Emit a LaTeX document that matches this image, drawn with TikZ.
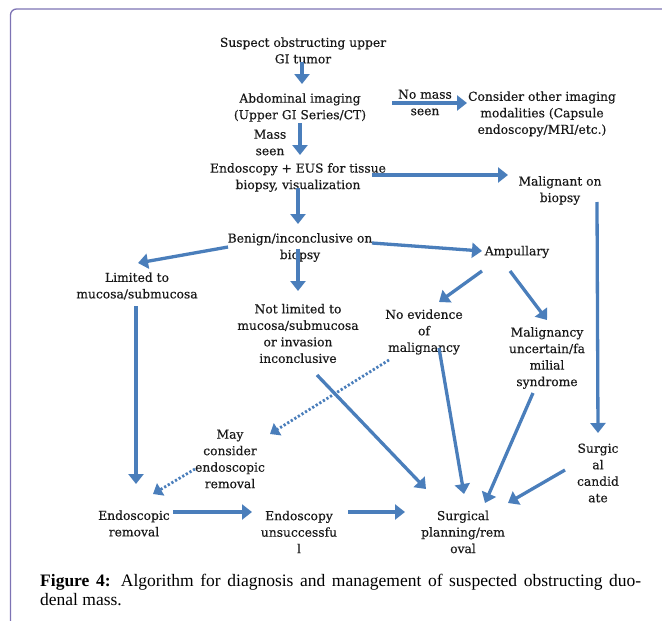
\documentclass[tikz,border=0pt]{standalone}
\usepackage{fontspec}
\setmainfont{Liberation Serif}
\newfontfamily\dgfont[FakeBold=0.4]{DejaVu Serif}
\usetikzlibrary{arrows.meta}
\definecolor{arrblue}{RGB}{74,126,187}
\definecolor{framecol}{RGB}{125,115,180}
\tikzset{
  txt/.style={align=center, inner sep=0pt, font=\dgfont\fontsize{12.3}{16.5}\selectfont, text=black!90},
  arr/.style={draw=arrblue, line width=3.3pt, -{Triangle[length=10pt,width=15pt]}, arrblue},
  dotarr/.style={draw=arrblue, line width=2.8pt, dash pattern=on 2.2pt off 2pt, -{Triangle[length=9pt,width=14pt]}, arrblue},
}
\begin{document}
\begin{tikzpicture}[x=1pt,y=-1pt]
\useasboundingbox (0,0) rectangle (662,621);
% frame
\draw[framecol, line width=1.3pt, rounded corners=6pt] (10.5,625) -- (10.5,9) -- (666,9);

% nodes
\node[txt] (s1) at (303,50.5) {Suspect obstructing upper\\GI tumor};
\node[txt] (ab) at (300,107.5) {Abdominal imaging\\(Upper GI Series/CT)};
\node[txt] (nm) at (425,102.5) {No mass\\seen};
\node[txt] (co) at (542,114) {Consider other imaging\\modalities (Capsule\\endoscopy/MRI/etc.)};
\node[txt] (ms) at (270,142.5) {Mass\\seen};
\node[txt] (en) at (298,177.5) {Endoscopy + EUS for tissue\\biopsy, visualization};
\node[txt] (mb) at (560,190.5) {Malignant on\\biopsy};
\node[txt] (bn) at (300,247.5) {Benign/inconclusive on\\biopsy};
\node[txt] (li) at (137,286) {Limited to\\mucosa/submucosa};
\node[txt] (am) at (517,252) {Ampullary};
\node[txt] (nl) at (298,333.5) {Not limited to\\mucosa/submucosa\\or invasion\\inconclusive};
\node[txt] (ne) at (424,332) {No evidence\\of\\malignancy};
\node[txt] (mu) at (547,358) {Malignancy\\uncertain/fa\\milial\\syndrome};
\node[txt] (ma) at (230,459) {May\\consider\\endoscopic\\removal};
\node[txt] (sc) at (598,473) {Surgic\\al\\candid\\ate};
\node[txt] (er) at (134,523.5) {Endoscopic\\removal};
\node[txt] (eu) at (299,532) {Endoscopy\\unsuccessfu\\l};
\node[txt] (sp) at (463,532) {Surgical\\planning/rem\\oval};

% connectors
\draw[arr] ([shift={(-1,11.5)}]s1.center) -- ([shift={(2,-23.5)}]ab.center);
\draw[arr] ([shift={(92,-4.5)}]ab.center) -- ([shift={(-75,-11)}]co.center);
\draw[arr] ([shift={(0,15.5)}]ab.center) -- ([shift={(2,-22.5)}]en.center);
\draw[arr] ([shift={(74,-2.5)}]en.center) -- ([shift={(-52,-15.5)}]mb.center);
\draw[arr] ([shift={(37,11.5)}]mb.center) -- ([shift={(0,-40)}]sc.center);
\draw[arr] ([shift={(0,10.5)}]en.center) -- ([shift={(-2,-23.5)}]bn.center);
\draw[arr] ([shift={(-72,-0.5)}]bn.center) -- ([shift={(1,-23)}]li.center);
\draw[arr] ([shift={(-2,1)}]bn.center) -- ([shift={(0,-42.5)}]nl.center);
\draw[arr] ([shift={(72,-4.5)}]bn.center) -- ([shift={(-35,-1)}]am.center);
\draw[arr] ([shift={(-35,19)}]am.center) -- ([shift={(15,-30)}]ne.center);
\draw[arr] ([shift={(-7,19)}]am.center) -- ([shift={(0,-38)}]mu.center);
\draw[arr] ([shift={(19,41.5)}]nl.center) -- ([shift={(-37,-43)}]sp.center);
\draw[dotarr] ([shift={(-35,28)}]ne.center) -- ([shift={(40,-25)}]ma.center);
\draw[arr] ([shift={(15,16)}]ne.center) -- ([shift={(1,-38)}]sp.center);
\draw[arr] ([shift={(-14,35)}]mu.center) -- ([shift={(22,-29)}]sp.center);
\draw[arr] ([shift={(-33,-3)}]sc.center) -- ([shift={(45,-29)}]sp.center);
\draw[arr] ([shift={(-1,20)}]li.center) -- ([shift={(2,-39.5)}]er.center);
\draw[dotarr] ([shift={(-35,10)}]ma.center) -- ([shift={(19,-29.5)}]er.center);
\draw[arr] ([shift={(39,-11.5)}]er.center) -- ([shift={(-47,-20)}]eu.center);
\draw[arr] ([shift={(49,-20)}]eu.center) -- ([shift={(-58,-20)}]sp.center);

% caption
\node[anchor=north west, inner sep=0pt, text width=601pt, align=justify,
      font=\fontsize{17.5}{19}\selectfont] (cap) at (40,574)
  {\textbf{Figure 4:} Algorithm for diagnosis and management of suspected obstructing duo-\linebreak denal mass.};
\end{tikzpicture}
\end{document}
